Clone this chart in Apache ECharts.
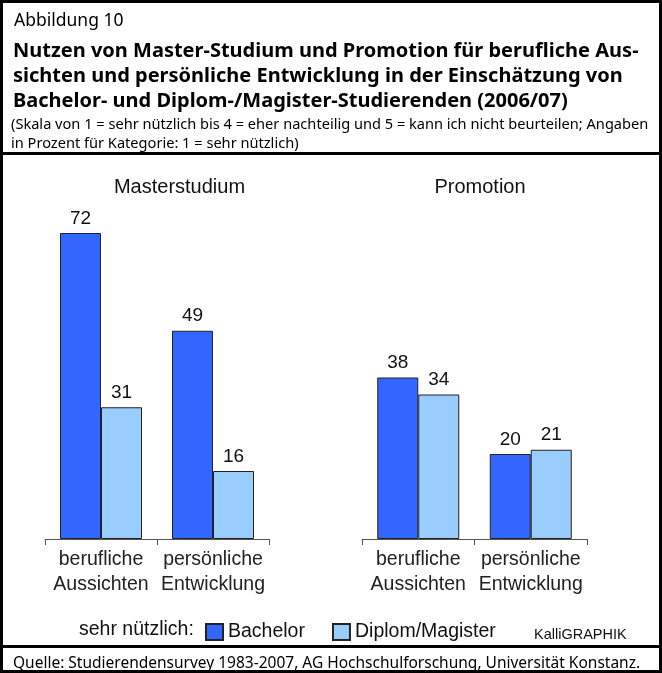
<!DOCTYPE html>
<html><head><meta charset="utf-8">
<script src="https://cdn.jsdelivr.net/npm/echarts@6/dist/echarts.min.js"></script>
<style>html,body{margin:0;padding:0;background:#fff}#c{width:662px;height:673px}</style>
</head><body><div id="c"></div>
<script>
const categories = ['berufliche\nAussichten', 'persönliche\nEntwicklung'];
const panelTitles = ['Masterstudium', 'Promotion'];
const seriesNames = ['Bachelor', 'Diplom/Magister'];
const masterBachelor = [72, 49];
const masterDiplom = [31, 16];
const promotionBachelor = [38, 20];
const promotionDiplom = [34, 21];
const figureLabel = 'Abbildung 10';
const titleLines = ['Nutzen von Master-Studium und Promotion für berufliche Aus-', 'sichten und persönliche Entwicklung in der Einschätzung von', 'Bachelor- und Diplom-/Magister-Studierenden (2006/07)'];
const noteLines = ['(Skala von 1 = sehr nützlich bis 4 = eher nachteilig und 5 = kann ich nicht beurteilen; Angaben', 'in Prozent für Kategorie: 1 = sehr nützlich)'];
const legendPrefix = 'sehr nützlich:';
const creditText = 'KalliGRAPHIK';
const sourceText = 'Quelle: Studierendensurvey 1983-2007, AG Hochschulforschung, Universität Konstanz.';

const colors = ['#3366FF', '#99CCFF'];
const HF = '"Noto Sans", sans-serif';
const AF = '"Liberation Sans", Arial, sans-serif';

const chart = echarts.init(document.getElementById('c'), null, {renderer: 'canvas'});

function xAx(gi) {
  return {
    type: 'category', gridIndex: gi, data: categories,
    axisLine: {show: true, lineStyle: {color: '#555', width: 1}},
    axisTick: {show: true, alignWithLabel: false, length: 6, lineStyle: {color: '#555'}},
    axisLabel: {fontFamily: AF, fontSize: 19.5, color: '#222', lineHeight: 25, margin: 8, interval: 0}
  };
}
function yAx(gi) {
  return {type: 'value', gridIndex: gi, min: 0, max: 100, show: false, splitLine: {show: false}};
}
function bar(name, data, gi, ci) {
  return {
    type: 'bar', name: name, xAxisIndex: gi, yAxisIndex: gi, data: data,
    barWidth: 41, barGap: '0%',
    itemStyle: {color: colors[ci], borderColor: '#222', borderWidth: 1},
    label: {show: true, position: 'top', distance: 5, fontFamily: AF, fontSize: 19, color: '#111'},
    emphasis: {disabled: true}, animation: false
  };
}

chart.setOption({
  animation: false,
  title: [
    {text: figureLabel, left: 9, top: 7, textStyle: {fontFamily: HF, fontSize: 17.5, fontWeight: 'normal', color: '#000'}},
    {text: titleLines.join('\n'), left: 8, top: 34, textStyle: {fontFamily: HF, fontSize: 20, fontWeight: 'bold', color: '#000', lineHeight: 25}},
    {text: noteLines.join('\n'), left: 6, top: 110, textStyle: {fontFamily: HF, fontSize: 14.6, fontWeight: 'normal', color: '#000', lineHeight: 19}},
    {text: panelTitles[0], left: 174.5, top: 172, textAlign: 'center', textStyle: {fontFamily: AF, fontSize: 20, fontWeight: 'normal', color: '#111'}},
    {text: panelTitles[1], left: 475, top: 172, textAlign: 'center', textStyle: {fontFamily: AF, fontSize: 20, fontWeight: 'normal', color: '#111'}},
    {text: legendPrefix, left: 79, top: 620, padding: 0, textStyle: {fontFamily: AF, fontSize: 19.5, fontWeight: 'normal', color: '#111'}},
    {text: creditText, left: 534, top: 627, padding: 0, textStyle: {fontFamily: AF, fontSize: 14.5, fontWeight: 'normal', color: '#111'}},
    {text: sourceText, left: 8, top: 651, textStyle: {fontFamily: HF, fontSize: 15.5, fontWeight: 'normal', color: '#000'}}
  ],
  legend: {
    left: 205, top: 622, padding: 0, itemWidth: 17, itemHeight: 16, itemGap: 27,
    icon: 'rect', selectedMode: false,
    data: seriesNames,
    textStyle: {fontFamily: AF, fontSize: 19.5, color: '#111'}
  },
  grid: [
    {left: 45, width: 224, top: 114, height: 425},
    {left: 362, width: 225, top: 114, height: 425}
  ],
  xAxis: [xAx(0), xAx(1)],
  yAxis: [yAx(0), yAx(1)],
  series: [
    bar(seriesNames[0], masterBachelor, 0, 0),
    bar(seriesNames[1], masterDiplom, 0, 1),
    bar(seriesNames[0], promotionBachelor, 1, 0),
    bar(seriesNames[1], promotionDiplom, 1, 1)
  ],
  graphic: [
    {type: 'rect', shape: {x: 1.5, y: 1.5, width: 659, height: 670}, style: {fill: null, stroke: '#000', lineWidth: 3}, silent: true},
    {type: 'line', shape: {x1: 0, y1: 153.5, x2: 662, y2: 153.5}, style: {stroke: '#000', lineWidth: 3}, silent: true},
    {type: 'line', shape: {x1: 0, y1: 646.5, x2: 662, y2: 646.5}, style: {stroke: '#000', lineWidth: 3}, silent: true}
  ]
});
</script></body></html>
